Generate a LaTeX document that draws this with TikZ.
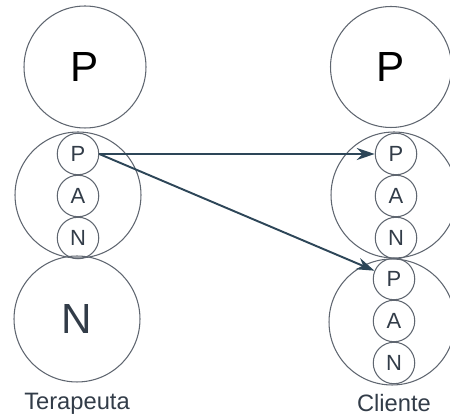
\documentclass[tikz,border=0pt]{standalone}
\usepackage{fontspec}
\setsansfont{Liberation Sans}
\usetikzlibrary{arrows.meta}
\begin{document}
\begin{tikzpicture}[x=0.02cm, y=-0.02cm]
  % Colors
  \definecolor{linecol}{RGB}{95,102,112}
  \definecolor{arrowcol}{RGB}{45,70,88}
  \definecolor{textcol}{RGB}{50,60,72}
  %
  \def\bd{2.52cm}
  \def\sd{0.83cm}
  \def\sp{42}
  %
  \tikzset{
    bigc/.style={draw=linecol, line width=0.6pt, circle, minimum size=\bd, inner sep=0pt,
                 font=\sffamily\fontsize{24}{26}\selectfont},
    smallc/.style={draw=linecol, line width=0.6pt, circle, minimum size=\sd, inner sep=0pt,
                   font=\sffamily\fontsize{12.5}{14}\selectfont, text=textcol},
    who/.style={font=\sffamily\fontsize{13.5}{15}\selectfont, text=textcol},
    link/.style={draw=arrowcol, line width=1.1pt, -{Stealth[length=3.6mm, width=2.4mm]}},
  }
  \useasboundingbox (0,0) rectangle (450,418);
  %
  %%% TERAPEUTA %%%
  \node[bigc, minimum size=2.44cm] (lTop) at (85, 67) {P};
  \node[bigc] (lMid) at (78, 195) {};
  \foreach \n/\t in {0/P, 1/A, 2/N} {
    \node[smallc] (l\t) at (78, {154+\n*\sp}) {\t};
  }
  \node[bigc, text=textcol] (lBot) at (77, 319) {N};
  \node[who] (lName) at (77, 404) {Terapeuta};
  %
  %%% CLIENTE %%%
  \node[bigc, minimum size=2.42cm] (rTop) at (391, 67) {P};
  \node[bigc] (rMidA) at (394, 195) {};
  \foreach \n/\t in {0/P, 1/A, 2/N} {
    \node[smallc] (ra\t) at (396, {154+\n*\sp}) {\t};
  }
  \node[bigc] (rMidB) at (392, 322) {};
  \foreach \n/\t in {0/P, 1/A, 2/N} {
    \node[smallc] (rb\t) at (394, {279+\n*\sp}) {\t};
  }
  \node[who] (rName) at (394, 403) {Cliente};
  %
  % Arrows
  \draw[link] (lP.east) -- (raP.west);
  \draw[link] (lP.east) -- (rbP);
\end{tikzpicture}
\end{document}
